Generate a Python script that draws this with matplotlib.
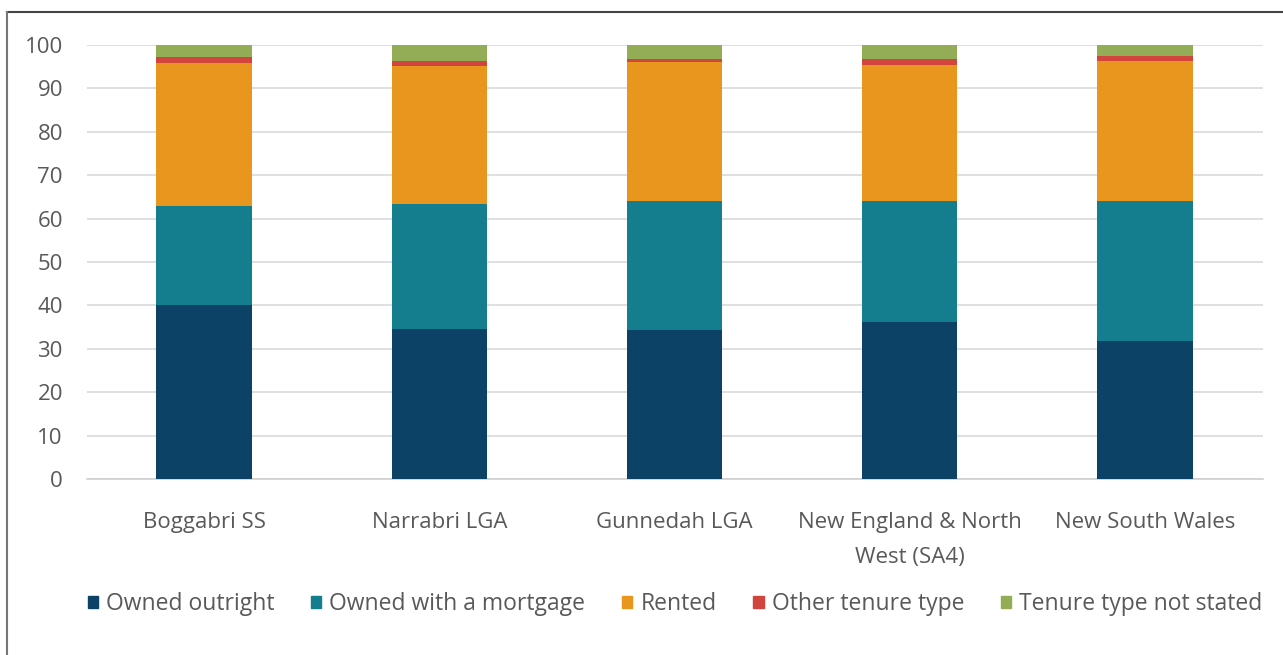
import matplotlib
matplotlib.use("Agg")
import matplotlib.pyplot as plt
from matplotlib.lines import Line2D
import numpy as np

categories = ["Boggabri SS", "Narrabri LGA", "Gunnedah LGA", "New England & North\nWest (SA4)", "New South Wales"]
owned_outright = [40.0, 34.6, 34.3, 36.2, 31.8]
owned_mortgage = [23.0, 28.8, 29.8, 27.9, 32.3]
rented = [32.8, 31.8, 32.0, 31.4, 32.2]
other_tenure = [1.5, 1.0, 0.6, 1.2, 1.2]
not_stated = [2.7, 3.8, 3.3, 3.3, 2.5]
series_names = ["Owned outright", "Owned with a mortgage", "Rented", "Other tenure type", "Tenure type not stated"]
colors = ["#0b4266", "#147d8e", "#e9961f", "#d2453f", "#93ad56"]
yticks = list(range(0, 101, 10))

plt.rcParams['font.family'] = ['Open Sans', 'DejaVu Sans']
fig = plt.figure(figsize=(12.83, 6.55), dpi=100)
ax = fig.add_axes([86.5/1283, 1-479/655, (1262.5-86.5)/1283, (479-45)/655])

x = np.arange(len(categories))
bottom = np.zeros(len(categories))
data = [owned_outright, owned_mortgage, rented, other_tenure, not_stated]
for vals, name, c in zip(data, series_names, colors):
    ax.bar(x, vals, 0.405, bottom=bottom, color=c, label=name, zorder=3)
    bottom += np.array(vals)

ax.set_xlim(-0.5, len(categories) - 0.5)
ax.set_ylim(0, 100)
ax.set_yticks(yticks)
ax.yaxis.grid(True, color="#d9d9d9", linewidth=1.2, zorder=0)
for s in ["top", "right", "left"]:
    ax.spines[s].set_visible(False)
ax.spines["bottom"].set_color("#d0d0d0")
ax.spines["bottom"].set_linewidth(1.2)
ax.tick_params(axis="both", length=0, colors="#595959", labelsize=16)
ax.tick_params(axis="y", pad=17)
ax.tick_params(axis="x", pad=24)
ax.set_xticks(x)
ax.set_xticklabels(categories, linespacing=1.85)

handles = [plt.Rectangle((0, 0), 1, 1, color=c) for c in colors]
fig.legend(handles, series_names, loc="center", bbox_to_anchor=(675/1283, 1-604/655), ncol=5,
           frameon=False, fontsize=16.5, handlelength=0.45, handleheight=0.45, handletextpad=0.35,
           columnspacing=1.6, labelcolor="#595959")

# outer frame lines (top and left)
fig.add_artist(Line2D([7/1283, 1], [1-12/655, 1-12/655], color="#444444", linewidth=1.5, transform=fig.transFigure))
fig.add_artist(Line2D([7/1283, 7/1283], [0, 1-12/655], color="#777777", linewidth=1.5, transform=fig.transFigure))

fig.savefig("out.png", dpi=100)
